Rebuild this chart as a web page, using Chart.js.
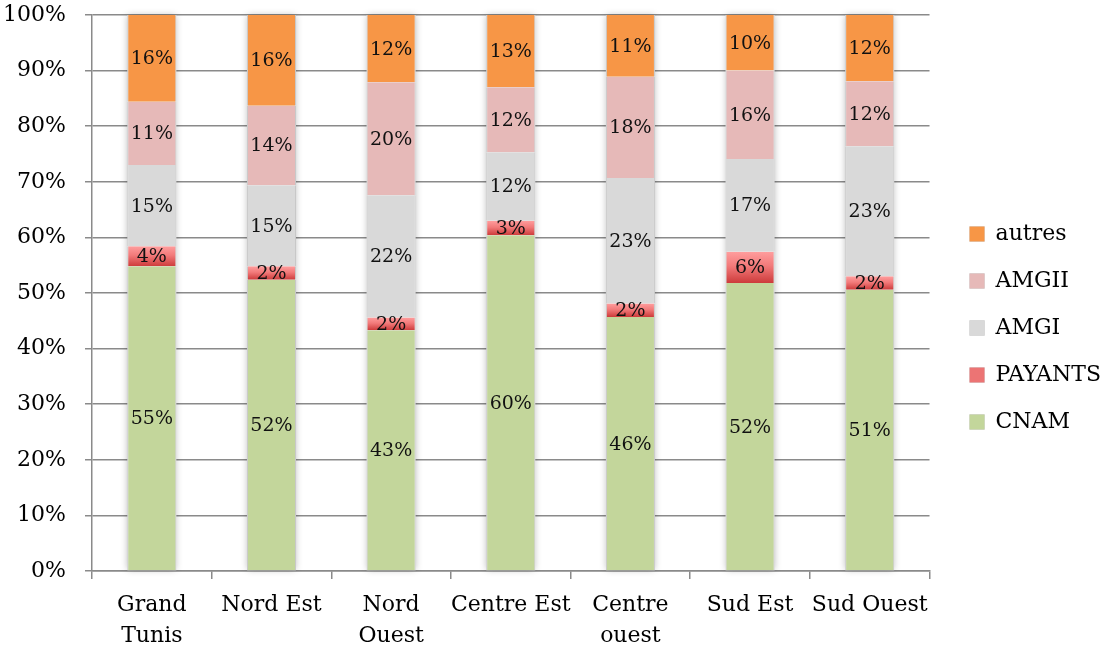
<!DOCTYPE html>
<html>
<head>
<meta charset="utf-8">
<script src="https://cdn.jsdelivr.net/npm/chart.js@4"></script>
<style>
  body { margin: 0; background: #fff; }
  #wrap { width: 1101px; height: 650px; position: relative; }
</style>
</head>
<body>
<div id="wrap"><canvas id="chart"></canvas></div>
<script>
// regions on the x axis
const regions = [['Grand', 'Tunis'], 'Nord Est', ['Nord', 'Ouest'], 'Centre Est', ['Centre', 'ouest'], 'Sud Est', 'Sud Ouest'];

// share of each payer, in percent
const cnam    = [54.8, 52.4, 43.3, 60.4, 45.7, 51.8, 50.6];
const payants = [3.6, 2.4, 2.3, 2.6, 2.4, 5.6, 2.4];
const amgi    = [14.6, 14.6, 22.0, 12.3, 22.6, 16.7, 23.4];
const amgii   = [11.4, 14.3, 20.3, 11.7, 18.2, 15.9, 11.7];
const autres  = [15.6, 16.3, 12.1, 13.0, 11.1, 10.0, 11.9];

const yTicks = [0, 10, 20, 30, 40, 50, 60, 70, 80, 90, 100];

const FONT = "'DejaVu Serif', serif";
const GRID = '#8a8a8a';

// red gradient for the PAYANTS segments, built from the y scale
const payantsFill = (ctx) => {
    const chart = ctx.chart;
    const y = chart.scales && chart.scales.y;
    if (ctx.dataIndex === undefined || !y || !chart.chartArea) return '#ec7474';
    const i = ctx.dataIndex;
    const top = y.getPixelForValue(cnam[i] + payants[i]);
    const bot = y.getPixelForValue(cnam[i]);
    const g = chart.ctx.createLinearGradient(0, top, 0, bot);
    g.addColorStop(0, '#ff9d9d');
    g.addColorStop(0.45, '#f27a7a');
    g.addColorStop(1, '#cd3b3b');
    return g;
};

// soft grey halo behind each stacked column
const barShadow = {
    id: 'barShadow',
    beforeDatasetsDraw(chart) {
        const c = chart.ctx;
        const first = chart.getDatasetMeta(0).data;
        const last = chart.getDatasetMeta(chart.data.datasets.length - 1).data;
        c.save();
        c.shadowColor = 'rgba(0,0,0,0.28)';
        c.shadowBlur = 7;
        c.fillStyle = '#eee';
        first.forEach((bar, i) => {
            const top = last[i].y;
            c.fillRect(bar.x - bar.width / 2, top, bar.width, bar.base - top);
        });
        c.restore();
    }
};

// value labels in the middle of every segment
const segLabels = {
    id: 'segLabels',
    afterDatasetsDraw(chart) {
        const c = chart.ctx;
        c.save();
        c.font = '19px ' + FONT;
        c.fillStyle = '#111';
        c.textAlign = 'center';
        c.textBaseline = 'middle';
        chart.data.datasets.forEach((ds, d) => {
            chart.getDatasetMeta(d).data.forEach((bar, i) => {
                const mid = (bar.y + bar.base) / 2;
                c.fillText(Math.round(ds.data[i]) + '%', bar.x, mid + 1);
            });
        });
        c.restore();
    }
};

// push the legend a bit away from the plot
const legendShift = {
    id: 'legendShift',
    afterLayout(chart) {
        const lg = chart.legend;
        lg.left += 15;
        lg.right += 15;
        lg.top += 3;
        lg.bottom += 3;
    }
};

const side = { top: 0, bottom: 0, left: 1, right: 1 };

new Chart(document.getElementById('chart'), {
    type: 'bar',
    data: {
        labels: regions,
        datasets: [
            { label: 'CNAM', data: cnam, backgroundColor: '#c3d69b' },
            { label: 'PAYANTS', data: payants, backgroundColor: payantsFill },
            { label: 'AMGI', data: amgi, backgroundColor: '#d9d9d9' },
            { label: 'AMGII', data: amgii, backgroundColor: '#e6b9b8' },
            { label: 'autres', data: autres, backgroundColor: '#f79646' }
        ].map((ds) => Object.assign(ds, {
            borderColor: 'rgba(0,0,0,0.16)',
            borderWidth: side,
            borderSkipped: false,
            barPercentage: 0.41,
            categoryPercentage: 1
        }))
    },
    options: {
        responsive: true,
        maintainAspectRatio: false,
        animation: false,
        layout: { padding: { top: 0, right: 5, bottom: 0, left: 0 } },
        plugins: {
            legend: {
                position: 'right',
                reverse: true,
                labels: {
                    boxWidth: 15,
                    boxHeight: 15,
                    padding: 25,
                    color: '#000',
                    font: { family: FONT, size: 22 },
                    generateLabels(chart) {
                        const items = Chart.defaults.plugins.legend.labels.generateLabels(chart);
                        items.forEach((it) => {
                            if (it.text === 'PAYANTS') it.fillStyle = '#ec7474';
                        });
                        return items;
                    }
                }
            },
            tooltip: { enabled: false }
        },
        scales: {
            x: {
                stacked: true,
                afterFit(scale) { scale.height = 79; },
                grid: { offset: true, drawOnChartArea: false, color: GRID, lineWidth: 1.5, tickLength: 8 },
                border: { color: GRID, width: 1.5 },
                ticks: {
                    color: '#000',
                    padding: 11,
                    autoSkip: false,
                    maxRotation: 0,
                    font: { family: FONT, size: 22, lineHeight: 1.4 }
                }
            },
            y: {
                stacked: true,
                min: 0,
                max: 100,
                afterFit(scale) {
                    scale.width = 92;
                    scale.paddingTop = 15;
                    scale.paddingBottom = 0;
                },
                afterBuildTicks(scale) { scale.ticks = yTicks.map((v) => ({ value: v })); },
                grid: { color: GRID, lineWidth: 1.5, tickLength: 7 },
                border: { color: GRID, width: 1.5 },
                ticks: {
                    color: '#000',
                    padding: 19,
                    font: { family: FONT, size: 22 },
                    callback: (v) => v + '%'
                }
            }
        }
    },
    plugins: [barShadow, segLabels, legendShift]
});
</script>
</body>
</html>
